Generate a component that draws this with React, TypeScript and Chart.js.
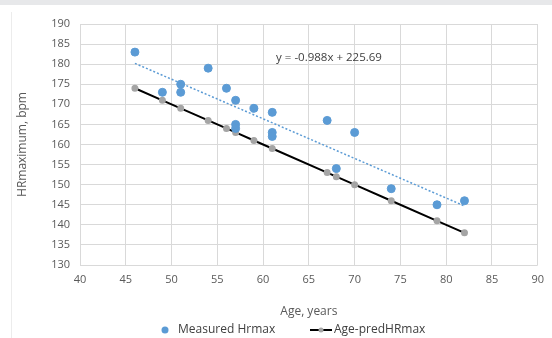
import React, { useEffect, useRef } from "react";
import { Chart, registerables } from "chart.js";

Chart.register(...registerables);

const measuredAge = [46, 49, 51, 51, 54, 56, 57, 57, 57, 59, 61, 61, 61, 67, 68, 70, 74, 79, 82];
const measuredHr = [183, 173, 175, 173, 179, 174, 171, 165, 164, 169, 168, 163, 162, 166, 154, 163, 149, 145, 146];

const predAge = [46, 49, 51, 54, 56, 57, 59, 61, 67, 68, 70, 74, 79, 82];
const predHr = [174, 171, 169, 166, 164, 163, 161, 159, 153, 152, 150, 146, 141, 138];

const trendAge = [46, 82];
const trendHr = [180.2, 144.7];

const equationText = "y = -0.988x + 225.69";
const equationPos = { x: 67.2, y: 181.6 };

const xTitle = "Age, years";
const yTitle = "HRmaximum, bpm";
const legendLabels = ["Measured Hrmax", "Age-predHRmax"];

const BLUE = "#5b9bd5";
const FONT = "'Open Sans', 'Liberation Sans', sans-serif";

export default function App() {
  const ref = useRef<HTMLCanvasElement | null>(null);

  useEffect(() => {
    document.body.style.margin = "0";
    const canvas = ref.current!;
    const bgPlugin = {
      id: "bg",
      beforeDraw(chart: any) {
        const ctx = chart.ctx;
        ctx.save();
        ctx.fillStyle = "#ffffff";
        ctx.fillRect(0, 0, chart.width, chart.height);
        ctx.fillStyle = "#e7e8ea";
        ctx.fillRect(0, 0, chart.width, 5);
        ctx.strokeStyle = "#ececec";
        ctx.lineWidth = 1;
        ctx.beginPath();
        ctx.moveTo(11.5, 12);
        ctx.lineTo(11.5, chart.height);
        ctx.stroke();
        ctx.restore();
      },
      afterDraw(chart: any) {
        const ctx = chart.ctx;
        const xs = chart.scales.x;
        const ys = chart.scales.y;
        ctx.save();
        ctx.font = `11.5px ${FONT}`;
        ctx.fillStyle = "#404040";
        ctx.textAlign = "center";
        ctx.textBaseline = "middle";
        ctx.fillText(equationText, xs.getPixelForValue(equationPos.x), ys.getPixelForValue(equationPos.y));

        // legend
        const ly = 330;
        ctx.font = `12px ${FONT}`;
        ctx.textAlign = "left";
        ctx.fillStyle = BLUE;
        ctx.beginPath();
        ctx.arc(165, ly, 3.5, 0, Math.PI * 2);
        ctx.fill();
        ctx.fillStyle = "#404040";
        ctx.fillText(legendLabels[0], 178, ly);
        ctx.strokeStyle = "#000000";
        ctx.lineWidth = 2;
        ctx.beginPath();
        ctx.moveTo(310, ly);
        ctx.lineTo(332, ly);
        ctx.stroke();
        ctx.fillStyle = "#a5a5a5";
        ctx.beginPath();
        ctx.arc(321, ly, 2.5, 0, Math.PI * 2);
        ctx.fill();
        ctx.fillStyle = "#404040";
        ctx.fillText(legendLabels[1], 334, ly);
        ctx.restore();
      },
    };

    const chart = new Chart(canvas, {
      type: "scatter",
      data: {
        datasets: [
          {
            label: legendLabels[0],
            data: measuredAge.map((a, i) => ({ x: a, y: measuredHr[i] })),
            backgroundColor: BLUE,
            borderColor: BLUE,
            pointRadius: 4,
            showLine: false,
          },
          {
            label: legendLabels[1],
            data: predAge.map((a, i) => ({ x: a, y: predHr[i] })),
            borderColor: "#000000",
            borderWidth: 2,
            backgroundColor: "#a5a5a5",
            pointBackgroundColor: "#a5a5a5",
            pointBorderColor: "#a5a5a5",
            pointRadius: 2.5,
            showLine: true,
          },
          {
            label: "trend",
            data: trendAge.map((a, i) => ({ x: a, y: trendHr[i] })),
            borderColor: BLUE,
            borderWidth: 1.5,
            borderDash: [2, 2],
            pointRadius: 0,
            showLine: true,
          },
        ],
      },
      plugins: [bgPlugin],
      options: {
        animation: false,
        responsive: false,
        maintainAspectRatio: false,
        layout: { padding: { left: 12, right: 10, top: 24, bottom: 0 } },
        plugins: { legend: { display: false }, tooltip: { enabled: false } },
        scales: {
          x: {
            type: "linear",
            min: 40,
            max: 90,
            ticks: { stepSize: 5, color: "#595959", font: { family: FONT, size: 11 }, padding: 8 },
            grid: { color: "#d9d9d9", drawTicks: false },
            border: { display: false },
            title: {
              display: true,
              text: xTitle,
              color: "#595959",
              font: { family: FONT, size: 12 },
              padding: { top: 0, bottom: 19 },
            },
            afterFit(scale: any) {
              scale.height = 338 - 265;
            },
          },
          y: {
            min: 130,
            max: 190,
            ticks: { stepSize: 5, color: "#595959", font: { family: FONT, size: 11 }, padding: 10 },
            grid: { color: "#d9d9d9", drawTicks: false },
            border: { display: false },
            title: {
              display: true,
              text: yTitle,
              color: "#595959",
              font: { family: FONT, size: 12 },
              padding: { top: 3, bottom: 0 },
            },
            afterFit(scale: any) {
              scale.width = 68;
            },
          },
        },
      },
    } as any);
    return () => chart.destroy();
  }, []);

  return <canvas ref={ref} width={552} height={338} style={{ display: "block" }} />;
}
